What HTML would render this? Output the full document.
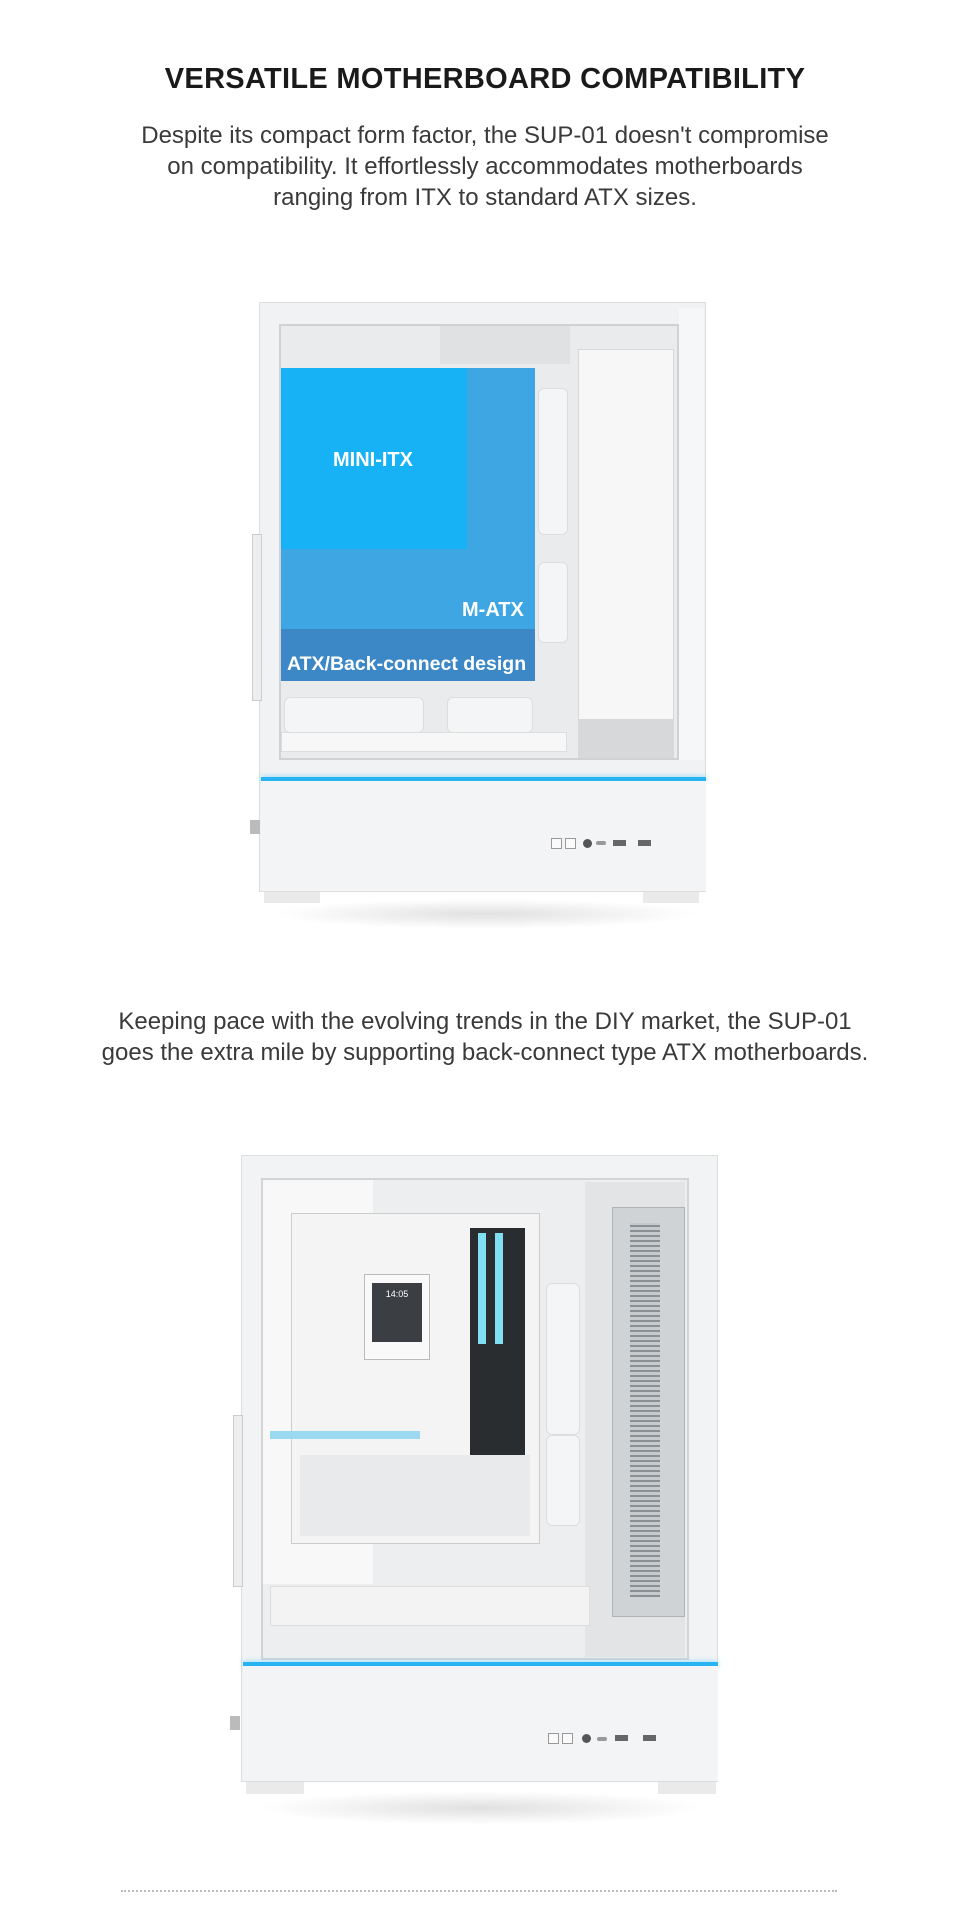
<!DOCTYPE html>
<html><head><meta charset="utf-8"><style>
*{margin:0;padding:0;box-sizing:border-box}
body{width:970px;height:1920px;background:#fff;position:relative;overflow:hidden;font-family:"Liberation Sans",sans-serif;color:#222}
.a{position:absolute}
.t{position:absolute;left:0;width:970px;text-align:center}
h1{font-size:29px;font-weight:600;letter-spacing:0.3px;color:#1a1a1a}
.p{font-size:24px;color:#3a3a3a;line-height:31px}
.lbl{position:absolute;color:#fff;font-weight:bold;white-space:nowrap}
.rail{position:absolute;background:#f4f5f6;border:1px solid #ddd;border-radius:6px}
.port{position:absolute;width:11px;height:11px;border:1px solid #999;background:#fafafa}
.usb{position:absolute;width:13px;height:6px;background:#666}
</style></head><body>

<div class="t" style="top:63px"><h1>VERSATILE MOTHERBOARD COMPATIBILITY</h1></div>
<div class="t p" style="top:120px">Despite its compact form factor, the SUP-01 doesn't compromise<br>on compatibility. It effortlessly accommodates motherboards<br>ranging from ITX to standard ATX sizes.</div>

<!-- Case 1 -->
<div class="a" style="left:270px;top:899px;width:430px;height:30px;background:radial-gradient(ellipse at center,rgba(0,0,0,.12),rgba(0,0,0,0) 70%)"></div>
<div class="a" style="left:259px;top:302px;width:447px;height:590px;background:#f1f2f3;border:1px solid #ddd"></div>
<div class="a" style="left:252px;top:534px;width:10px;height:167px;background:#eee;border:1px solid #ccc"></div>
<div class="a" style="left:279px;top:324px;width:400px;height:436px;background:#e9ebec;border:2px solid #cfd2d4"></div>
<div class="a" style="left:679px;top:308px;width:25px;height:452px;background:#f6f7f8"></div>
<div class="a" style="left:440px;top:326px;width:130px;height:38px;background:#dfe1e3"></div>
<div class="a" style="left:578px;top:349px;width:96px;height:374px;background:#f7f7f7;border:1px solid #d8d8d8"></div>
<div class="a" style="left:578px;top:719px;width:96px;height:39px;background:#d6d8da"></div>
<div class="rail" style="left:538px;top:388px;width:30px;height:147px"></div>
<div class="rail" style="left:538px;top:562px;width:30px;height:81px"></div>
<div class="rail" style="left:284px;top:697px;width:140px;height:36px"></div>
<div class="rail" style="left:447px;top:697px;width:86px;height:36px"></div>
<div class="a" style="left:281px;top:732px;width:286px;height:20px;background:#f7f7f7;border:1px solid #ddd"></div>
<!-- blue boxes -->
<div class="a" style="left:281px;top:368px;width:254px;height:313px;background:rgba(24,150,225,.82)"></div>
<div class="a" style="left:281px;top:368px;width:186px;height:181px;background:#17b1f6"></div>
<div class="a" style="left:281px;top:629px;width:254px;height:52px;background:#3c87c6"></div>
<div class="lbl" style="left:333px;top:449px;font-size:20px">MINI-ITX</div>
<div class="lbl" style="left:462px;top:599px;font-size:20px">M-ATX</div>
<div class="lbl" style="left:287px;top:653px;font-size:19.5px">ATX/Back-connect design</div>
<!-- base -->
<div class="a" style="left:261px;top:777px;width:445px;height:4px;background:#28b4f2;box-shadow:0 0 6px #7fd4fa"></div>
<div class="a" style="left:261px;top:781px;width:445px;height:111px;background:#f3f4f5;border-bottom:1px solid #ddd"></div>
<div class="a" style="left:264px;top:892px;width:56px;height:11px;background:#eaeaea"></div>
<div class="a" style="left:643px;top:892px;width:56px;height:11px;background:#eaeaea"></div>
<div class="a" style="left:250px;top:820px;width:10px;height:14px;background:#bbb"></div>
<div class="port" style="left:551px;top:838px"></div>
<div class="port" style="left:565px;top:838px"></div>
<div class="a" style="left:583px;top:839px;width:9px;height:9px;border-radius:50%;background:#555"></div>
<div class="a" style="left:596px;top:841px;width:10px;height:4px;border-radius:2px;background:#999"></div>
<div class="usb" style="left:613px;top:840px"></div>
<div class="usb" style="left:638px;top:840px"></div>

<div class="t p" style="top:1006px">Keeping pace with the evolving trends in the DIY market, the SUP-01<br>goes the extra mile by supporting back-connect type ATX motherboards.</div>

<!-- Case 2 -->
<div class="a" style="left:255px;top:1791px;width:450px;height:34px;background:radial-gradient(ellipse at center,rgba(0,0,0,.12),rgba(0,0,0,0) 70%)"></div>
<div class="a" style="left:241px;top:1155px;width:477px;height:627px;background:#f2f3f4;border:1px solid #ddd"></div>
<div class="a" style="left:233px;top:1415px;width:10px;height:172px;background:#eee;border:1px solid #ccc"></div>
<div class="a" style="left:261px;top:1178px;width:428px;height:482px;background:#eceef0;border:2px solid #d2d4d6"></div>
<div class="a" style="left:263px;top:1180px;width:110px;height:404px;background:#f8f8f8"></div>
<div class="a" style="left:291px;top:1213px;width:249px;height:331px;background:#f4f4f4;border:1px solid #ccc"></div>
<div class="a" style="left:470px;top:1228px;width:55px;height:232px;background:#2a2d30"></div>
<div class="a" style="left:478px;top:1233px;width:8px;height:111px;background:#7ee0f2"></div>
<div class="a" style="left:495px;top:1233px;width:8px;height:111px;background:#7ee0f2"></div>
<div class="a" style="left:364px;top:1274px;width:66px;height:86px;background:#f9f9f9;border:1px solid #bbb"></div>
<div class="a" style="left:372px;top:1283px;width:50px;height:59px;background:#3b3f44;color:#fff;font-size:9px;text-align:center;padding-top:6px">14:05</div>
<div class="a" style="left:300px;top:1455px;width:230px;height:81px;background:#e9eaeb"></div>
<div class="a" style="left:270px;top:1431px;width:150px;height:8px;background:#9bd9f0"></div>
<div class="rail" style="left:546px;top:1283px;width:34px;height:152px"></div>
<div class="rail" style="left:546px;top:1435px;width:34px;height:91px"></div>
<div class="a" style="left:585px;top:1182px;width:100px;height:475px;background:#e2e4e6"></div>
<div class="a" style="left:612px;top:1207px;width:73px;height:410px;background:#d0d3d6;border:1px solid #b0b3b6"></div>
<div class="a" style="left:630px;top:1223px;width:30px;height:374px;background:repeating-linear-gradient(0deg,#8a8f94 0 2px,#c7cacd 2px 5px)"></div>
<div class="a" style="left:270px;top:1586px;width:320px;height:40px;background:#f3f3f3;border:1px solid #ddd"></div>
<!-- base -->
<div class="a" style="left:243px;top:1662px;width:475px;height:4px;background:#28b4f2;box-shadow:0 0 6px #7fd4fa"></div>
<div class="a" style="left:243px;top:1666px;width:475px;height:116px;background:#f3f4f5;border-bottom:1px solid #ddd"></div>
<div class="a" style="left:246px;top:1782px;width:58px;height:12px;background:#eaeaea"></div>
<div class="a" style="left:658px;top:1782px;width:58px;height:12px;background:#eaeaea"></div>
<div class="a" style="left:230px;top:1716px;width:10px;height:14px;background:#bbb"></div>
<div class="port" style="left:548px;top:1733px"></div>
<div class="port" style="left:562px;top:1733px"></div>
<div class="a" style="left:582px;top:1734px;width:9px;height:9px;border-radius:50%;background:#555"></div>
<div class="a" style="left:597px;top:1737px;width:10px;height:4px;border-radius:2px;background:#999"></div>
<div class="usb" style="left:615px;top:1735px"></div>
<div class="usb" style="left:643px;top:1735px"></div>

<div class="a" style="left:121px;top:1890px;width:716px;height:0;border-top:2px dotted #bbb"></div>
</body></html>
